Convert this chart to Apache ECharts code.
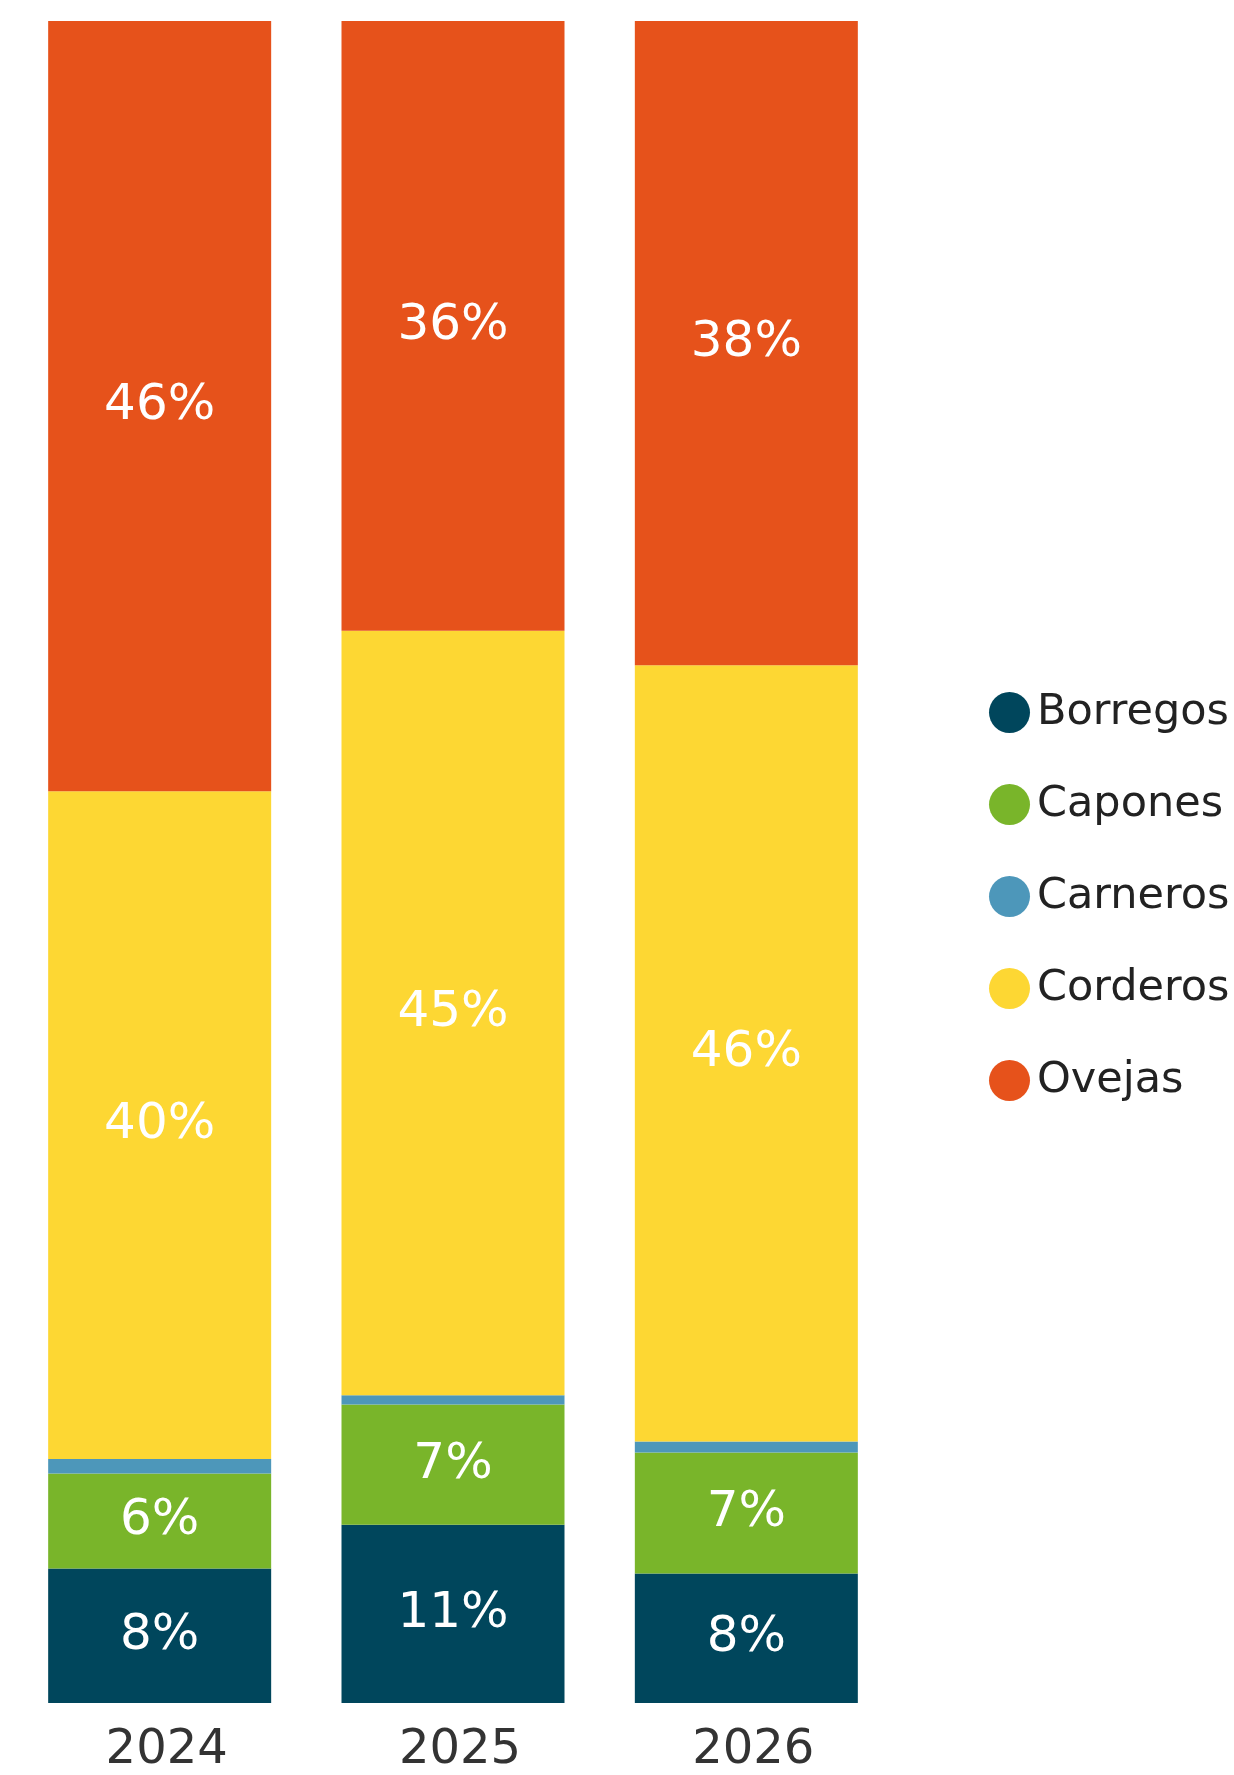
<!DOCTYPE html>
<html>
<head>
<meta charset="utf-8">
<script src="https://cdn.jsdelivr.net/npm/echarts@6/dist/echarts.min.js"></script>
<style>
html,body{margin:0;padding:0;background:#fff;}
#chart{width:1234px;height:1775px;}
</style>
</head>
<body>
<div id="chart"></div>
<script>
const categories = ['2024', '2025', '2026'];
const borregos = [8.0, 10.6, 7.7];
const capones = [5.65, 7.15, 7.2];
const carneros = [0.85, 0.55, 0.65];
const corderos = [39.7, 45.45, 46.15];
const ovejas = [45.8, 36.25, 38.3];

const seriesNames = ['Borregos', 'Capones', 'Carneros', 'Corderos', 'Ovejas'];
const seriesData = [borregos, capones, carneros, corderos, ovejas];
const seriesColors = ['#00465C', '#79B52A', '#4D97BA', '#FDD733', '#E6521B'];
const showLabel = [true, true, false, true, true];

const FONT = 'DejaVu Sans, Verdana, sans-serif';

const chart = echarts.init(document.getElementById('chart'), null, {renderer: 'canvas'});
chart.setOption({
  animation: false,
  backgroundColor: '#ffffff',
  grid: {left: 13, right: 341, top: 21, bottom: 67, containLabel: false},
  legend: {
    orient: 'vertical',
    left: 984,
    top: 686,
    icon: 'circle',
    itemWidth: 41,
    itemHeight: 41,
    itemGap: 49,
    textStyle: {fontFamily: FONT, fontSize: 43, color: '#222222', padding: [0, 0, 0, 2]},
    data: seriesNames
  },
  xAxis: {
    type: 'category',
    data: categories,
    axisLine: {show: false},
    axisTick: {show: false},
    axisLabel: {fontFamily: FONT, fontSize: 48, color: '#333333', margin: 24, padding: [0, 0, 0, 14]}
  },
  yAxis: {type: 'value', min: 0, max: 100, show: false, splitLine: {show: false}},
  series: seriesNames.map((name, i) => ({
    name: name,
    type: 'bar',
    stack: 'total',
    barWidth: 223,
    data: seriesData[i],
    itemStyle: {color: seriesColors[i]},
    label: {
      show: showLabel[i],
      position: 'inside',
      fontFamily: FONT,
      fontSize: 50,
      color: '#ffffff',
      formatter: p => Math.round(p.value) + '%'
    }
  }))
});
</script>
</body>
</html>
